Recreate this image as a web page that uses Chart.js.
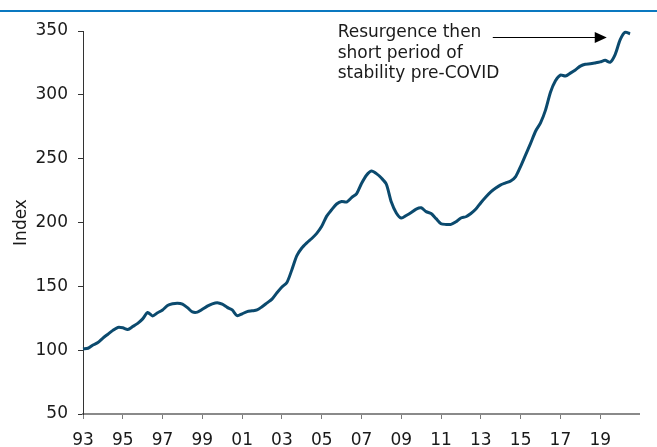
<!DOCTYPE html>
<html><head><meta charset="utf-8">
<script src="https://cdn.jsdelivr.net/npm/chart.js@4"></script>
<style>
html,body{margin:0;padding:0;background:#fff;}
#wrap{position:relative;width:657px;height:447px;overflow:hidden;}
#topline{position:absolute;left:0;top:10px;width:657px;height:2px;background:#0a78c0;}
canvas{position:absolute;left:0;top:0;}
</style></head><body>
<div id="wrap"><canvas id="c" width="657" height="447"></canvas><div id="topline"></div></div>
<script>
// Quarterly index values, 1993 Q1 .. 2020 Q3
const years = [1993,1994,1995,1996,1997,1998,1999,2000,2001,2002,2003,2004,2005,2006,2007,2008,2009,2010,2011,2012,2013,2014,2015,2016,2017,2018,2019,2020];
const values = [
  101, 101.5, 104, 106,
  109.5, 112.5, 115.5, 117.8,
  117.5, 116.2, 118.5, 121,
  124.5, 129.5, 126.8, 129.3,
  131.5, 135, 136.3, 136.8,
  136, 133.3, 130, 129.8,
  132, 134.5, 136.3, 137.2,
  136, 133.5, 131.5, 127,
  128.5, 130.2, 130.8, 131.5,
  134, 137, 140, 145,
  149.5, 153, 163, 174,
  180, 184, 187.5, 191.5,
  197, 205, 210, 214.5,
  216.5, 216, 219.5, 222.5,
  230.5, 237, 240.3, 238.3,
  234.8, 230, 216, 207.5,
  203.5, 205.5, 207.8, 210.5,
  211.5, 208.5, 207, 203,
  199, 198.5, 198.5, 200.5,
  203.5, 204.5, 207, 210.5,
  215.5, 220, 224, 227,
  229.5, 231, 232.5, 236,
  244, 253, 262, 271.5,
  278, 288, 302, 311,
  315.5, 314.7, 317, 319.5,
  322.5, 324, 324.3, 325,
  325.8, 327, 325.5, 331.5,
  343, 349, 347.8
];
const tickYears = [1993,1995,1997,1999,2001,2003,2005,2007,2009,2011,2013,2015,2017,2019];
const tickLabels = ["93","95","97","99","01","03","05","07","09","11","13","15","17","19"];
const yTicks = [50,100,150,200,250,300,350];
const yTitle = "Index";
const noteLines = ["Resurgence then","short period of","stability pre-COVID"];
const noteAt = [2005.8, 348.6];      // text anchor (year, index)
const arrowFrom = [2013.6, 345.3];
const arrowTo = [2019.33, 345.3];

const points = [];
values.forEach((v, i) => {
  const y = years[Math.floor(i / 4)];
  points.push({x: y + (i % 4) / 4, y: v});
});

const FONT = "'DejaVu Sans', Verdana, sans-serif";

const notePlugin = {
  id: 'note',
  afterDatasetsDraw(chart) {
    const {ctx, scales: {x, y}} = chart;
    ctx.save();
    ctx.fillStyle = '#1a1a1a';
    ctx.font = '17px ' + FONT;
    ctx.textAlign = 'left';
    ctx.textBaseline = 'middle';
    const tx = x.getPixelForValue(noteAt[0]);
    const ty = y.getPixelForValue(noteAt[1]);
    noteLines.forEach((t, i) => ctx.fillText(t, tx, ty + i * 20.5));
    const ax0 = x.getPixelForValue(arrowFrom[0]), ay0 = y.getPixelForValue(arrowFrom[1]);
    const ax1 = x.getPixelForValue(arrowTo[0]), ay1 = y.getPixelForValue(arrowTo[1]);
    ctx.strokeStyle = '#000';
    ctx.lineWidth = 1;
    ctx.beginPath();
    ctx.moveTo(ax0, ay0 + 0.5);
    ctx.lineTo(ax1 - 10, ay1 + 0.5);
    ctx.stroke();
    ctx.fillStyle = '#000';
    ctx.beginPath();
    ctx.moveTo(ax1, ay1 + 0.5);
    ctx.lineTo(ax1 - 12, ay1 - 5);
    ctx.lineTo(ax1 - 12, ay1 + 6);
    ctx.closePath();
    ctx.fill();
    ctx.restore();
  }
};

new Chart(document.getElementById('c'), {
  type: 'line',
  data: {
    datasets: [{
      data: points,
      borderColor: '#0b4a6e',
      borderWidth: 3,
      pointRadius: 0,
      tension: 0.25,
      fill: false,
      clip: false
    }]
  },
  options: {
    responsive: false,
    animation: false,
    events: [],
    layout: {padding: {left: 0, right: 18, top: 31, bottom: 0}},
    plugins: {legend: {display: false}, tooltip: {enabled: false}},
    scales: {
      x: {
        type: 'linear',
        min: 1993,
        max: 2020.95,
        afterBuildTicks: s => { s.ticks = tickYears.map(v => ({value: v})); },
        afterFit: s => { s.height = 33; },
        ticks: {
          autoSkip: false,
          maxRotation: 0,
          padding: 11,
          color: '#1a1a1a',
          font: {family: FONT, size: 17},
          callback: (v) => tickLabels[tickYears.indexOf(v)]
        },
        grid: {drawOnChartArea: false, drawTicks: true, tickLength: 5, tickColor: '#7a7a7a'},
        border: {color: '#8a8a8a', width: 2}
      },
      y: {
        min: 50,
        max: 350,
        afterBuildTicks: s => { s.ticks = yTicks.map(v => ({value: v})); },
        afterFit: s => { s.width = 83; },
        ticks: {
          padding: 10,
          color: '#1a1a1a',
          font: {family: FONT, size: 17}
        },
        title: {
          display: true,
          text: yTitle,
          color: '#1a1a1a',
          font: {family: FONT, size: 17},
          padding: {top: 11, bottom: 0}
        },
        grid: {drawOnChartArea: false, drawTicks: true, tickLength: 5, tickColor: '#333'},
        border: {color: '#333', width: 1}
      }
    }
  },
  plugins: [notePlugin]
});
</script>
</body></html>
